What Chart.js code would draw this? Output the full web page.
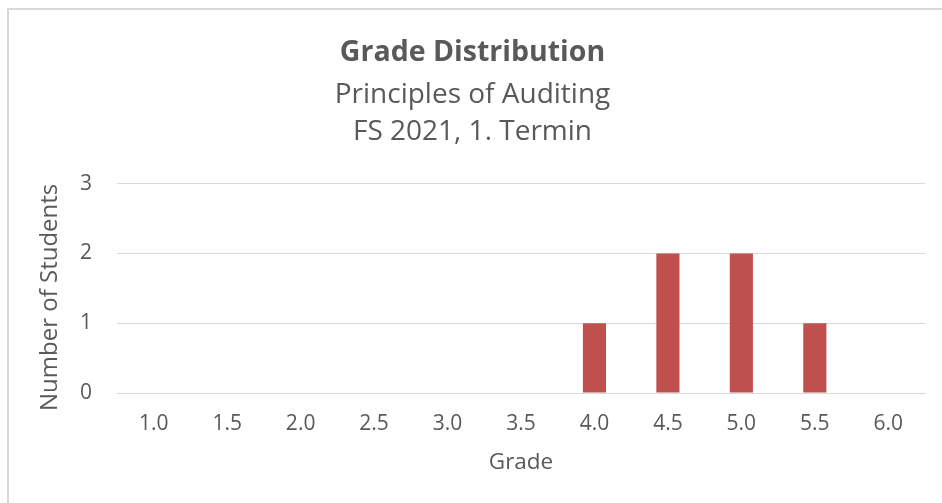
<!DOCTYPE html>
<html>
<head>
<meta charset="utf-8">
<script src="https://cdn.jsdelivr.net/npm/chart.js@4/dist/chart.umd.min.js"></script>
<style>
  html, body { margin: 0; padding: 0; background: #ffffff; overflow: hidden; }
  #frame { position: absolute; left: 7px; top: 8px; width: 1000px; height: 1000px; border: 2px solid #d9d9d9; box-sizing: border-box; }
  #wrap { position: absolute; left: 0; top: 0; width: 942px; height: 503px; }
</style>
</head>
<body>
<div id="frame"></div>
<div id="wrap"><canvas id="c" width="942" height="503"></canvas></div>
<script>
const grades = ['1.0', '1.5', '2.0', '2.5', '3.0', '3.5', '4.0', '4.5', '5.0', '5.5', '6.0'];
const students = [0, 0, 0, 0, 0, 0, 1, 2, 2, 1, 0];
const chartTitle = 'Grade Distribution';
const chartSubtitle = ['Principles of Auditing', 'FS 2021, 1. Termin'];
const xTitle = 'Grade';
const yTitle = 'Number of Students';

const textColor = '#595959';
const gridColor = '#d9d9d9';
const fontFamily = '"Open Sans", "Noto Sans", sans-serif';

// Excel centres the vertical axis title on the axis incl. its labels, a bit lower than Chart.js does
const yTitleShift = {
  id: 'yTitleShift',
  afterLayout(chart) { chart.scales.y.bottom += 18; }
};

new Chart(document.getElementById('c'), {
  type: 'bar',
  data: {
    labels: grades,
    datasets: [{
      data: students,
      backgroundColor: '#c0504d',
      borderWidth: 0,
      barPercentage: 1,
      categoryPercentage: 0.315
    }]
  },
  plugins: [yTitleShift],
  options: {
    responsive: false,
    animation: false,
    devicePixelRatio: 1,
    layout: { padding: { left: 20, right: 17, top: 0, bottom: 0 } },
    plugins: {
      legend: { display: false },
      tooltip: { enabled: false },
      title: {
        display: true,
        text: chartTitle,
        color: textColor,
        font: { family: fontFamily, size: 28.5, weight: 'bold', lineHeight: 1.2 },
        padding: { top: 36, bottom: 0 }
      },
      subtitle: {
        display: true,
        text: chartSubtitle,
        color: textColor,
        font: { family: fontFamily, size: 28, weight: 'normal', lineHeight: 37 / 28 },
        padding: { top: 6.5, bottom: 33 }
      }
    },
    scales: {
      x: {
        grid: { display: false, drawTicks: false },
        border: { display: true, color: gridColor, width: 1 },
        ticks: { color: textColor, font: { family: fontFamily, size: 21 }, padding: 18, maxRotation: 0 },
        title: {
          display: true,
          text: xTitle,
          color: textColor,
          font: { family: fontFamily, size: 22.5, lineHeight: 1.2 },
          padding: { top: 0, bottom: 40 - 13.5 }
        },
        afterFit: (s) => { s.height = 110; }
      },
      y: {
        min: 0,
        max: 3,
        grid: { color: gridColor, lineWidth: 1, drawTicks: false },
        border: { display: false },
        ticks: { stepSize: 1, color: textColor, font: { family: fontFamily, size: 21 }, padding: 25 },
        title: {
          display: true,
          text: yTitle,
          color: textColor,
          font: { family: fontFamily, size: 24, lineHeight: 1.2 },
          padding: { top: 50 - 20 - 14.4, bottom: 0 }
        },
        afterFit: (s) => { s.width = 97; }
      }
    }
  }
});
</script>
</body>
</html>
